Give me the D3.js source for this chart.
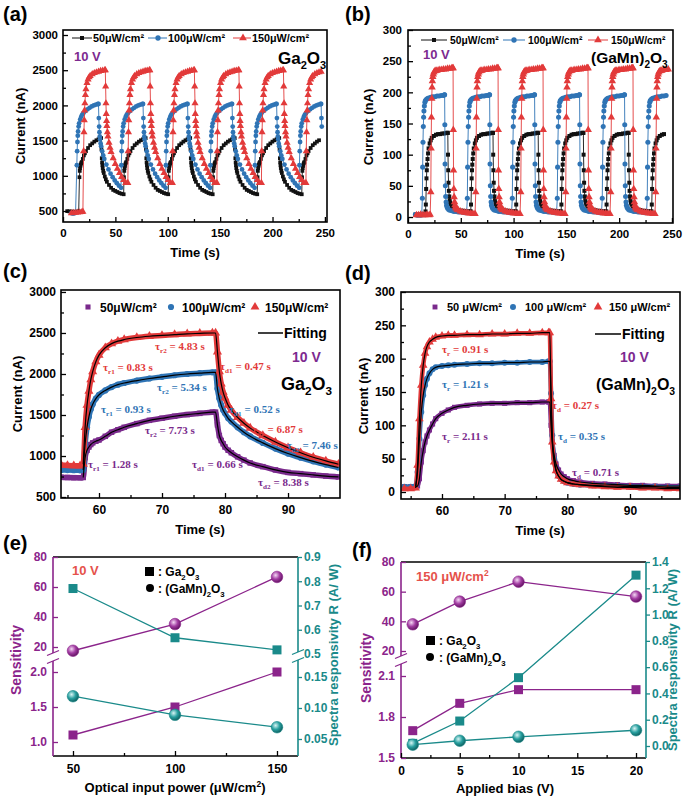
<!DOCTYPE html>
<html><head><meta charset="utf-8">
<script src="https://cdn.jsdelivr.net/npm/d3@7"></script>
<style>body{margin:0;background:#fff}svg{display:block}</style>
</head><body>
<svg id="fig" width="685" height="798"></svg>
<script>
// ===================== DATA =====================
const powerLabels = ["50μW/cm²", "100μW/cm²", "150μW/cm²"];
const powerLabelsD = ["50 μW/cm²", "100 μW/cm²", "150 μW/cm²"];

// (c) Ga2O3, one on/off cycle (time s, current nA)
const cTime   = [54,55,56,57,57.5,57.8,58.1,58.4,58.7,59,59.5,60,61,62,63,64,66,68,70,72,74,76,78,78.5,78.8,79.1,79.4,79.7,80,80.5,81,82,83,84,86,88,90,92,94,96,98];
const cCur50  = [740,738,736,735,738,980,1070,1110,1140,1160,1180,1195,1240,1290,1320,1350,1395,1435,1460,1485,1505,1520,1535,1535,1380,1250,1190,1150,1110,1070,1040,990,950,915,870,830,800,785,770,755,745];
const cCur100 = [830,828,826,825,830,1150,1350,1480,1570,1630,1700,1745,1800,1840,1870,1890,1920,1945,1965,1985,2000,2010,2020,2020,1820,1700,1620,1560,1520,1460,1420,1350,1290,1240,1160,1090,1030,980,935,895,860];
const cCur150 = [890,885,882,880,900,1350,1620,1790,1930,2030,2150,2230,2320,2370,2400,2420,2445,2460,2470,2480,2490,2495,2500,2500,2270,2030,1880,1780,1710,1620,1560,1470,1400,1340,1250,1170,1100,1040,985,940,900];
const cRiseTime = 57.6;

// (d) (GaMn)2O3, one on/off cycle
const dTime   = [54,55,55.8,56.1,56.4,56.7,57,57.3,57.6,58,58.5,59,60,61,62,64,66,68,70,72,74,76,77,77.2,77.4,77.6,77.9,78.2,78.6,79,79.5,80,81,82,84,86,88,90,92,94,96,98];
const dCur50  = [8,8,8,9,20,45,62,75,84,93,102,110,118,123,127,130,132,133,133,134,134,135,135,135,100,75,55,42,33,27,23,20,17,15,13,12,11,10,10,9,9,9];
const dCur100 = [8,8,9,30,80,120,145,160,170,178,184,187,189,190,191,192,193,193,194,194,195,195,196,196,148,85,50,33,24,19,16,14,12,11,10,9,9,8,8,8,7,7];
const dCur150 = [5,5,6,40,110,160,190,208,218,225,229,232,234,235,235,236,236,237,237,238,238,239,239,239,140,75,45,32,24,19,16,14,12,11,9,8,7,7,6,6,5,5];
const dRiseTime = 56.0;

// (a) light-on times of each cycle, initial dark readings and end of record
const aStart50  = [15.5, 58, 100.5, 143, 185.5, 228];
const aStart100 = [13, 55.5, 98, 140.5, 183, 225.5];
const aStart150 = [19.5, 62, 104.5, 147, 189.5, 232];
const aDarkT50 = [4,6,8,10,12,14,15], aDark50 = [498,495,492,490,490,492,495];
const aDarkT100 = [8,9,10,11,12], aDark100 = [470,468,468,470,475];
const aDarkT150 = [8,10,12,14,16,18,19], aDark150 = [470,472,475,478,482,486,490];
const aEnd = [245, 247, 248];

// (b)
const bStart50  = [16.5, 59.3, 102.1, 144.9, 187.7, 230.5];
const bStart100 = [13.5, 56.1, 98.7, 141.3, 183.9, 226.5];
const bStart150 = [21.5, 64.1, 106.7, 149.3, 191.9, 234.5];
const bDarkT50 = [7,9,11,13,15,16], bDark50 = [4,3,3,4,3,4];
const bDarkT100 = [7,8,9,10,11,12,13], bDark100 = [4,4,3,4,4,3,4];
const bDarkT150 = [8,10,12,14,16,18,20,21], bDark150 = [3,3,4,3,3,4,3,4];
const bEnd = [243, 246, 248];

// (e)
const ePower = [50, 100, 150];
const eSensGa = [1.1, 1.5, 2.0];
const eSensGaMn = [17.5, 35.3, 66.7];
const eRespGa = [0.77, 0.567, 0.517];
const eRespGaMn = [0.119, 0.089, 0.069];

// (f)
const fBias = [1, 5, 10, 20];
const fSensGa = [1.7, 1.9, 2.0, 2.0];
const fSensGaMn = [38, 53.3, 66.7, 56.7];
const fRespGa = [0.02, 0.19, 0.52, 1.3];
const fRespGaMn = [0.01, 0.04, 0.07, 0.12];

// ===================== HELPERS =====================
const svg = d3.select("#fig");
const F = "'Liberation Sans', Arial, Helvetica, sans-serif";
const FS = "'Liberation Serif', 'Times New Roman', serif";
const K = "#111111", BL = "#2f74b5", RD = "#e23a3a", PU = "#7a2a8c", VV = "#7d2a90", SP = "#8b248b", TL = "#1a8a8a", LR = "#e5524b";

function txt(g, x, y, s, o = {}) {
  return g.append("text").attr("x", x).attr("y", y).text(s)
    .attr("font-family", o.fam || F).attr("font-weight", "bold").attr("font-size", o.size || 12)
    .attr("fill", o.fill || "#000").attr("text-anchor", o.anchor || "start")
    .attr("transform", o.rot ? `rotate(${o.rot},${x},${y})` : null);
}
function rich(g, x, y, parts, o = {}) {
  const size = o.size || 12;
  const t = g.append("text").attr("x", x).attr("y", y)
    .attr("font-family", o.fam || F).attr("font-weight", "bold").attr("font-size", size)
    .attr("fill", o.fill || "#000").attr("text-anchor", o.anchor || "start")
    .attr("transform", o.rot ? `rotate(${o.rot},${x},${y})` : null);
  let cur = 0;
  parts.forEach(p => {
    const [s, k] = Array.isArray(p) ? p : [p, null];
    const off = k === "sub" ? size * 0.3 : k === "sup" ? -size * 0.4 : 0;
    t.append("tspan").attr("dy", off - cur).attr("font-size", k ? size * 0.65 : size).text(s);
    cur = off;
  });
  return t;
}
function sty(sel, size, fill) {
  sel.select(".domain").remove();
  sel.selectAll(".tick text").attr("font-family", F).attr("font-weight", "bold")
    .attr("font-size", size || 12).attr("fill", fill || "#000");
  sel.selectAll(".tick line").attr("stroke", fill || "#000").attr("stroke-width", 1.3);
}
function boxPanel(o) {
  const g = svg.append("g");
  const x = d3.scaleLinear().domain(o.xd).range([o.l, o.r]);
  const y = d3.scaleLinear().domain(o.yd).range([o.b, o.t]);
  const clipId = "clip" + o.id;
  svg.append("clipPath").attr("id", clipId).append("rect")
    .attr("x", o.l).attr("y", o.t).attr("width", o.r - o.l).attr("height", o.b - o.t);
  const plot = g.append("g").attr("clip-path", `url(#${clipId})`);
  const top = g.append("g");
  top.append("g").attr("transform", `translate(0,${o.b})`)
    .call(d3.axisBottom(x).tickValues(o.xm).tickSize(-3).tickSizeOuter(0).tickFormat("")).call(s => sty(s));
  top.append("g").attr("transform", `translate(0,${o.b})`)
    .call(d3.axisBottom(x).tickValues(o.xt).tickSize(-5).tickSizeOuter(0).tickPadding(o.xp || 7).tickFormat(d3.format("d")))
    .call(s => sty(s, o.fs));
  top.append("g").attr("transform", `translate(${o.l},0)`)
    .call(d3.axisLeft(y).tickValues(o.ym).tickSize(-3).tickSizeOuter(0).tickFormat("")).call(s => sty(s));
  top.append("g").attr("transform", `translate(${o.l},0)`)
    .call(d3.axisLeft(y).tickValues(o.yt).tickSize(-5).tickSizeOuter(0).tickPadding(o.yp || 5).tickFormat(d3.format("d")))
    .call(s => sty(s, o.fs));
  top.append("rect").attr("x", o.l).attr("y", o.t).attr("width", o.r - o.l).attr("height", o.b - o.t)
    .attr("fill", "none").attr("stroke", "#000").attr("stroke-width", 1.6);
  return { g, plot, top, x, y };
}
function markers(grp, pts, x, y, type, size, color) {
  grp.append("g").selectAll("path").data(pts).join("path")
    .attr("d", d3.symbol(type, size))
    .attr("transform", d => `translate(${x(d[0])},${y(d[1])})`)
    .attr("fill", color);
}
function cycles(time, vals, rise, starts, end, darkT, darkV) {
  const pts = darkT.map((t, i) => [t, darkV[i]]);
  starts.forEach((s, k) => {
    const sh = s - rise;
    time.forEach((t, i) => {
      if (t < rise + (k === 0 ? 0.1 : -0.15)) return;
      const tt = t + sh;
      if (tt > end) return;
      pts.push([tt, vals[i]]);
    });
  });
  return pts;
}
const zip = (a, b) => a.map((v, i) => [v, b[i]]);

// ===================== PANEL (a) =====================
{
  const P = boxPanel({ id: "a", l: 63, r: 327, t: 30, b: 222, xd: [0, 252], yd: [344, 3071],
    xt: d3.range(0, 251, 50), xm: d3.range(25, 250, 50), yt: d3.range(500, 3001, 500), ym: d3.range(750, 3000, 500), fs: 11.5 });
  const sets = [
    [cycles(cTime, cCur50, cRiseTime, aStart50, aEnd[0], aDarkT50, aDark50), K, d3.symbolSquare, 14],
    [cycles(cTime, cCur100, cRiseTime, aStart100, aEnd[1], aDarkT100, aDark100), BL, d3.symbolCircle, 18],
    [cycles(cTime, cCur150, cRiseTime, aStart150, aEnd[2], aDarkT150, aDark150), RD, d3.symbolTriangle, 22]
  ];
  sets.forEach(([pts, c, sy, sz]) => {
    P.plot.append("path").datum(pts).attr("d", d3.line().x(d => P.x(d[0])).y(d => P.y(d[1])))
      .attr("fill", "none").attr("stroke", c).attr("stroke-width", 0.9);
    markers(P.plot, pts, P.x, P.y, sy, sz, c);
  });
  const lg = P.top;
  [[72, 92, 82, 93, K, d3.symbolSquare, 16], [148, 167, 158, 168, BL, d3.symbolCircle, 22], [233, 251, 243, 252, RD, d3.symbolTriangle, 26]]
    .forEach(([x1, x2, mx, tx, c, sy, sz], i) => {
      lg.append("line").attr("x1", x1).attr("x2", x2).attr("y1", 38).attr("y2", 38).attr("stroke", c).attr("stroke-width", 1);
      lg.append("path").attr("d", d3.symbol(sy, sz)).attr("transform", `translate(${mx},38)`).attr("fill", c);
      txt(lg, tx, 42, powerLabels[i], { size: 10.8 });
    });
  txt(P.top, 74, 61, "10 V", { size: 13, fill: VV });
  rich(P.top, 278, 64, ["Ga", ["2", "sub"], "O", ["3", "sub"]], { size: 17 });
  txt(svg, 195, 257, "Time (s)", { size: 13, anchor: "middle" });
  txt(svg, 25, 126, "Current (nA)", { size: 13, anchor: "middle", rot: -90 });
  txt(svg, 3, 21, "(a)", { size: 20 });
}

// ===================== PANEL (b) =====================
{
  const P = boxPanel({ id: "b", l: 408, r: 673, t: 30, b: 223, xd: [0, 251], yd: [-9.6, 300],
    xt: d3.range(0, 251, 50), xm: d3.range(25, 250, 50), yt: d3.range(0, 301, 50), ym: d3.range(25, 300, 50), fs: 11.5, yp: 6 });
  const sets = [
    [cycles(dTime, dCur50, dRiseTime, bStart50, bEnd[0], bDarkT50, bDark50), K, d3.symbolSquare, 16],
    [cycles(dTime, dCur100, dRiseTime, bStart100, bEnd[1], bDarkT100, bDark100), BL, d3.symbolCircle, 20],
    [cycles(dTime, dCur150, dRiseTime, bStart150, bEnd[2], bDarkT150, bDark150), RD, d3.symbolTriangle, 24]
  ];
  sets.forEach(([pts, c, sy, sz]) => {
    P.plot.append("path").datum(pts).attr("d", d3.line().x(d => P.x(d[0])).y(d => P.y(d[1])))
      .attr("fill", "none").attr("stroke", c).attr("stroke-width", 0.9);
    markers(P.plot, pts, P.x, P.y, sy, sz, c);
  });
  const lg = P.top;
  [[421, 447, 434, 450, K, d3.symbolSquare, 16], [503, 525, 514, 528, BL, d3.symbolCircle, 22], [588, 608, 598, 611, RD, d3.symbolTriangle, 26]]
    .forEach(([x1, x2, mx, tx, c, sy, sz], i) => {
      lg.append("line").attr("x1", x1).attr("x2", x2).attr("y1", 40).attr("y2", 40).attr("stroke", c).attr("stroke-width", 1);
      lg.append("path").attr("d", d3.symbol(sy, sz)).attr("transform", `translate(${mx},40)`).attr("fill", c);
      txt(lg, tx, 44, powerLabels[i], { size: 10.3 });
    });
  txt(P.top, 423, 59, "10 V", { size: 13, fill: VV });
  rich(P.top, 591, 63, ["(GaMn)", ["2", "sub"], "O", ["3", "sub"]], { size: 15.5 });
  txt(svg, 540, 258, "Time (s)", { size: 13, anchor: "middle" });
  txt(svg, 373, 127, "Current (nA)", { size: 13, anchor: "middle", rot: -90 });
  txt(svg, 345, 21, "(b)", { size: 20 });
}

// tau label helper
function tau(g, x, y, sub, rest, c) {
  rich(g, x, y, ["τ", [sub, "sub"], rest], { size: 11, fam: FS, fill: c });
}

// ===================== PANEL (c) =====================
{
  const P = boxPanel({ id: "c", l: 61, r: 340, t: 290, b: 498, xd: [53.97, 98.25], yd: [488, 3024],
    xt: [60, 70, 80, 90], xm: [55, 65, 75, 85, 95], yt: d3.range(500, 3001, 500), ym: d3.range(750, 3000, 500), fs: 12 });
  const sets = [[cCur50, PU, d3.symbolSquare, 30], [cCur100, BL, d3.symbolCircle, 30], [cCur150, RD, d3.symbolTriangle, 36]];
  const line = d3.line().x(d => P.x(d[0])).y(d => P.y(d[1])).curve(d3.curveMonotoneX);
  sets.forEach(([v, c, sy, sz]) => {
    const pts = zip(cTime, v);
    P.plot.append("path").datum(pts).attr("d", line).attr("fill", "none").attr("stroke", c).attr("stroke-width", 5.5);
    markers(P.plot, pts, P.x, P.y, sy, sz, c);
  });
  sets.forEach(([v]) => {
    const pts = zip(cTime, v).filter(d => d[0] >= 57.5);
    P.plot.append("path").datum(pts).attr("d", line).attr("fill", "none").attr("stroke", "#000").attr("stroke-width", 1.2);
  });
  const lg = P.top;
  [[88, 100, PU, d3.symbolSquare, 26], [171, 182, BL, d3.symbolCircle, 30], [255, 265, RD, d3.symbolTriangle, 34]]
    .forEach(([mx, tx, c, sy, sz], i) => {
      lg.append("path").attr("d", d3.symbol(sy, sz)).attr("transform", `translate(${mx},307)`).attr("fill", c);
      txt(lg, tx, 311.5, powerLabels[i], { size: 12 });
    });
  lg.append("line").attr("x1", 258).attr("x2", 283).attr("y1", 333).attr("y2", 333).attr("stroke", "#000").attr("stroke-width", 1.5);
  txt(lg, 284, 338, "Fitting", { size: 14 });
  txt(lg, 292, 362, "10 V", { size: 14, fill: VV });
  rich(lg, 281, 390, ["Ga", ["2", "sub"], "O", ["3", "sub"]], { size: 18 });
  tau(lg, 155, 350, "r2", " = 4.83 s", RD);
  tau(lg, 103, 371, "r1", " = 0.83 s", RD);
  tau(lg, 220, 370, "d1", " = 0.47 s", RD);
  tau(lg, 157, 391, "r2", " = 5.34 s", BL);
  tau(lg, 101, 413, "r1", " = 0.93 s", BL);
  tau(lg, 229, 413, "d1", " = 0.52 s", BL);
  tau(lg, 145, 434, "r2", " = 7.73 s", PU);
  tau(lg, 252, 433, "d2", " = 6.87 s", RD);
  tau(lg, 287, 449, "d2", " = 7.46 s", BL);
  tau(lg, 88, 468, "r1", " = 1.28 s", PU);
  tau(lg, 192, 468, "d1", " = 0.66 s", PU);
  tau(lg, 258, 486, "d2", " = 8.38 s", PU);
  txt(svg, 200, 534, "Time (s)", { size: 13, anchor: "middle" });
  txt(svg, 22, 394, "Current (nA)", { size: 13, anchor: "middle", rot: -90 });
  txt(svg, 3, 278, "(c)", { size: 20 });
}

// ===================== PANEL (d) =====================
{
  const P = boxPanel({ id: "d", l: 401, r: 680, t: 292, b: 499, xd: [53.46, 97.98], yd: [-10.5, 300],
    xt: [60, 70, 80, 90], xm: [55, 65, 75, 85, 95], yt: d3.range(0, 301, 50), ym: d3.range(25, 300, 50), fs: 12, yp: 6 });
  const sets = [[dCur50, PU, d3.symbolSquare, 26], [dCur100, BL, d3.symbolCircle, 28], [dCur150, RD, d3.symbolTriangle, 32]];
  const line = d3.line().x(d => P.x(d[0])).y(d => P.y(d[1])).curve(d3.curveMonotoneX);
  sets.forEach(([v, c, sy, sz]) => {
    const pts = zip(dTime, v);
    P.plot.append("path").datum(pts).attr("d", line).attr("fill", "none").attr("stroke", c).attr("stroke-width", 4.5);
    markers(P.plot, pts, P.x, P.y, sy, sz, c);
  });
  sets.forEach(([v]) => {
    const pts = zip(dTime, v).filter(d => d[0] >= 55.8);
    P.plot.append("path").datum(pts).attr("d", line).attr("fill", "none").attr("stroke", "#000").attr("stroke-width", 1.2);
  });
  const lg = P.top;
  [[435, 447, PU, d3.symbolSquare, 24], [513, 525, BL, d3.symbolCircle, 28], [598, 609, RD, d3.symbolTriangle, 32]]
    .forEach(([mx, tx, c, sy, sz], i) => {
      lg.append("path").attr("d", d3.symbol(sy, sz)).attr("transform", `translate(${mx},307)`).attr("fill", c);
      txt(lg, tx, 311, powerLabelsD[i], { size: 11 });
    });
  lg.append("line").attr("x1", 595).attr("x2", 621).attr("y1", 334).attr("y2", 334).attr("stroke", "#000").attr("stroke-width", 1.5);
  txt(lg, 622, 339, "Fitting", { size: 14 });
  txt(lg, 620, 362, "10 V", { size: 14, fill: VV });
  rich(lg, 596, 390, ["(GaMn)", ["2", "sub"], "O", ["3", "sub"]], { size: 16 });
  const tau2 = (x, y, s, r, c) => rich(lg, x, y, ["τ", [s, "sub"], r], { size: 11, fam: FS, fill: c });
  tau2(442, 353, "r", " = 0.91 s", RD);
  tau2(442, 388, "r", " = 1.21 s", BL);
  tau2(552, 409, "d", " = 0.27 s", RD);
  tau2(442, 440, "r", " = 2.11 s", PU);
  tau2(558, 440, "d", " = 0.35 s", BL);
  tau2(572, 476, "d", " = 0.71 s", PU);
  txt(svg, 540, 535, "Time (s)", { size: 13, anchor: "middle" });
  txt(svg, 368, 396, "Current (nA)", { size: 13, anchor: "middle", rot: -90 });
  txt(svg, 345, 280, "(d)", { size: 20 });
}

// ===================== gradients for spheres =====================
const defs = svg.append("defs");
[["gP", "#f4d8f4", "#a23ca2", "#5a0e5a"], ["gT", "#d8f4f4", "#28a0a0", "#0b5858"]].forEach(([id, a, b, c]) => {
  const gr = defs.append("radialGradient").attr("id", id).attr("cx", "38%").attr("cy", "35%").attr("r", "70%");
  gr.append("stop").attr("offset", "0%").attr("stop-color", a);
  gr.append("stop").attr("offset", "50%").attr("stop-color", b);
  gr.append("stop").attr("offset", "100%").attr("stop-color", c);
});

function breakMark(g, x, y1, y2, color) {
  g.append("rect").attr("x", x - 6).attr("y", y1).attr("width", 12).attr("height", y2 - y1).attr("fill", "#fff");
  [y1, y2].forEach(yy => g.append("line").attr("x1", x - 6).attr("x2", x + 6).attr("y1", yy + 2.5).attr("y2", yy - 2.5)
    .attr("stroke", color).attr("stroke-width", 1.3));
}

function dualPanel(o) {
  const g = svg.append("g");
  const x = d3.scaleLinear().domain(o.xd).range([o.l, o.r]);
  const sy = v => (v > 8 ? o.sUp(v) : o.sLo(v));
  const ry = o.ry;
  g.append("line").attr("x1", o.l).attr("x2", o.r).attr("y1", o.t).attr("y2", o.t).attr("stroke", "#000").attr("stroke-width", 1.6);
  g.append("line").attr("x1", o.l).attr("x2", o.r).attr("y1", o.b).attr("y2", o.b).attr("stroke", "#000").attr("stroke-width", 1.6);
  g.append("line").attr("x1", o.l).attr("x2", o.l).attr("y1", o.t).attr("y2", o.b).attr("stroke", SP).attr("stroke-width", 1.6);
  g.append("line").attr("x1", o.r).attr("x2", o.r).attr("y1", o.t).attr("y2", o.b).attr("stroke", TL).attr("stroke-width", 1.6);
  g.append("g").attr("transform", `translate(0,${o.b})`)
    .call(d3.axisBottom(x).tickValues(o.xm).tickSize(-3).tickSizeOuter(0).tickFormat("")).call(s => sty(s));
  g.append("g").attr("transform", `translate(0,${o.b})`)
    .call(d3.axisBottom(x).tickValues(o.xt).tickSize(-5).tickSizeOuter(0).tickPadding(8).tickFormat(d3.format("d"))).call(s => sty(s, 12));
  g.append("g").attr("transform", `translate(${o.l},0)`)
    .call(d3.axisLeft(o.sUp).tickValues(o.sUpT).tickSize(-5).tickSizeOuter(0).tickPadding(6).tickFormat(d3.format("d"))).call(s => sty(s, 12, SP));
  g.append("g").attr("transform", `translate(${o.l},0)`)
    .call(d3.axisLeft(o.sLo).tickValues(o.sLoT).tickSize(-5).tickSizeOuter(0).tickPadding(6).tickFormat(d3.format(".1f"))).call(s => sty(s, 12, SP));
  o.rAxes.forEach(([sc, tv, fmt]) => {
    g.append("g").attr("transform", `translate(${o.r},0)`)
      .call(d3.axisRight(sc).tickValues(tv).tickSize(4).tickSizeOuter(0).tickPadding(2).tickFormat(d3.format(fmt))).call(s => sty(s, 12, TL));
  });
  breakMark(g, o.l, o.brk[0], o.brk[1], SP);
  if (o.rBrk) breakMark(g, o.r, o.rBrk[0], o.rBrk[1], TL);
  const ln = (yf) => d3.line().x(d => x(d[0])).y(d => yf(d[1]));
  const series = [
    [zip(o.xs, o.sGaMn), sy, SP, "ci", "gP"], [zip(o.xs, o.sGa), sy, SP, "sq"],
    [zip(o.xs, o.rGa), ry, TL, "sq"], [zip(o.xs, o.rGaMn), ry, TL, "ci", "gT"]
  ];
  series.forEach(([pts, yf, c]) => g.append("path").datum(pts).attr("d", ln(yf)).attr("fill", "none").attr("stroke", c).attr("stroke-width", 1.3));
  series.forEach(([pts, yf, c, m, grad]) => {
    if (m === "sq") {
      g.append("g").selectAll("rect").data(pts).join("rect")
        .attr("x", d => x(d[0]) - 4.5).attr("y", d => yf(d[1]) - 4.5).attr("width", 9).attr("height", 9).attr("fill", c);
    } else {
      g.append("g").selectAll("circle").data(pts).join("circle")
        .attr("cx", d => x(d[0])).attr("cy", d => yf(d[1])).attr("r", 5.8).attr("fill", `url(#${grad})`)
        .attr("stroke", c).attr("stroke-width", 0.6);
    }
  });
  return { g, x };
}

// ===================== PANEL (e) =====================
{
  const sUp = d3.scaleLinear().domain([20, 80]).range([647, 557]);
  const sLo = d3.scaleLinear().domain([1.0, 2.0]).range([742, 672]);
  const rUp = d3.scaleLinear().domain([0.5, 0.9]).range([654, 557]);
  const rLo = d3.scaleLinear().domain([0.05, 0.15]).range([739, 677]);
  const P = dualPanel({
    l: 53, r: 298, t: 557, b: 756, xd: [40.2, 160.3], xt: [50, 100, 150], xm: [75, 125],
    sUp, sLo, sUpT: [20, 40, 60, 80], sLoT: [1.0, 1.5, 2.0],
    ry: v => (v > 0.3 ? rUp(v) : rLo(v)),
    rAxes: [[rUp, [0.5, 0.6, 0.7, 0.8, 0.9], ".1f"], [rLo, [0.05, 0.10, 0.15], ".2f"]],
    brk: [653, 661], rBrk: [652, 660],
    xs: ePower, sGa: eSensGa, sGaMn: eSensGaMn, rGa: eRespGa, rGaMn: eRespGaMn
  });
  txt(P.g, 72, 575, "10 V", { size: 13, fill: LR });
  P.g.append("rect").attr("x", 145).attr("y", 567).attr("width", 9).attr("height", 9).attr("fill", "#000");
  rich(P.g, 158, 576, [": Ga", ["2", "sub"], "O", ["3", "sub"]], { size: 12 });
  P.g.append("circle").attr("cx", 150).attr("cy", 588).attr("r", 4).attr("fill", "#000");
  rich(P.g, 158, 593, [": (GaMn)", ["2", "sub"], "O", ["3", "sub"]], { size: 12 });
  rich(svg, 175, 792, ["Optical input power (μW/cm", ["2", "sup"], ")"], { size: 13, anchor: "middle" });
  txt(svg, 21, 660, "Sensitivity", { size: 14, anchor: "middle", rot: -90, fill: SP });
  txt(svg, 338, 655, "Spectra responsivity R (A/ W)", { size: 13, anchor: "middle", rot: -90, fill: TL });
  txt(svg, 3, 550, "(e)", { size: 20 });
}

// ===================== PANEL (f) =====================
{
  const sUp = d3.scaleLinear().domain([20, 80]).range([651, 562]);
  const sLo = d3.scaleLinear().domain([1.5, 2.1]).range([758, 676]);
  const rS = d3.scaleLinear().domain([0, 1.4]).range([746, 562]);
  const P = dualPanel({
    l: 401, r: 646, t: 562, b: 758, xd: [0, 20.85], xt: [0, 5, 10, 15, 20], xm: [2.5, 7.5, 12.5, 17.5],
    sUp, sLo, sUpT: [20, 40, 60, 80], sLoT: [1.5, 1.8, 2.1],
    ry: rS, rAxes: [[rS, [0, 0.2, 0.4, 0.6, 0.8, 1.0, 1.2, 1.4], ".1f"]],
    brk: [656, 664], rBrk: null,
    xs: fBias, sGa: fSensGa, sGaMn: fSensGaMn, rGa: fRespGa, rGaMn: fRespGaMn
  });
  rich(P.g, 416, 581, ["150 μW/cm", ["2", "sup"]], { size: 13, fill: LR });
  P.g.append("rect").attr("x", 426).attr("y", 636).attr("width", 9).attr("height", 9).attr("fill", "#000");
  rich(P.g, 439, 645, [": Ga", ["2", "sub"], "O", ["3", "sub"]], { size: 12 });
  P.g.append("circle").attr("cx", 430).attr("cy", 657).attr("r", 4).attr("fill", "#000");
  rich(P.g, 439, 662, [": (GaMn)", ["2", "sub"], "O", ["3", "sub"]], { size: 12 });
  txt(svg, 505, 793, "Applied bias (V)", { size: 13, anchor: "middle" });
  txt(svg, 371, 668, "Sensitivity", { size: 14, anchor: "middle", rot: -90, fill: SP });
  txt(svg, 677, 660, "Spectra responsivity R (A/ W)", { size: 13, anchor: "middle", rot: -90, fill: TL });
  txt(svg, 352, 557, "(f)", { size: 20 });
}
</script>
</body></html>
